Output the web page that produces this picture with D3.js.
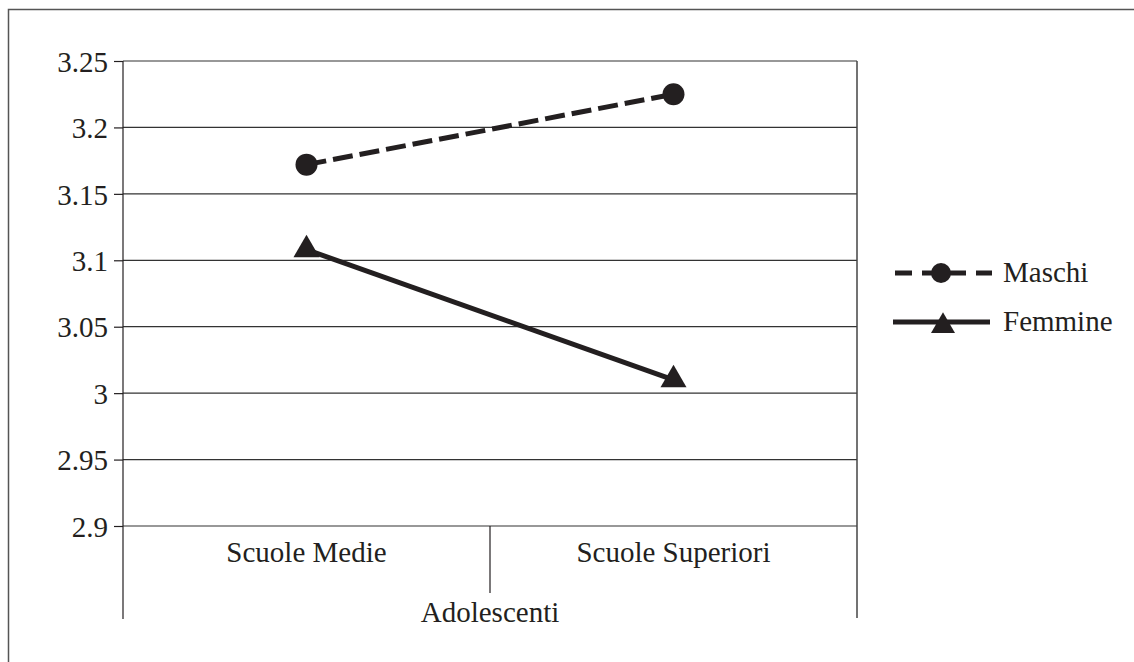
<!DOCTYPE html>
<html>
<head>
<meta charset="utf-8">
<script src="https://cdn.jsdelivr.net/npm/d3@7"></script>
<style>
  html, body { margin: 0; padding: 0; background: #fff; }
  text { font-family: "Liberation Serif", "DejaVu Serif", serif; fill: #231f20; }
</style>
</head>
<body>
<div id="chart"></div>
<script>
// Data
const categories = ["Scuole Medie", "Scuole Superiori"];
const groupLabel = "Adolescenti";
const seriesNames = ["Maschi", "Femmine"];
const maschi = [3.172, 3.225];
const femmine = [3.108, 3.01];
const yTicks = [2.9, 2.95, 3, 3.05, 3.1, 3.15, 3.2, 3.25];

const width = 1134,
      height = 662;
const ink = "#231f20";
const fontSize = "29px";
const serif = "'Liberation Serif', 'DejaVu Serif', serif";

const margin = { left: 123, right: 857, top: 61, bottom: 526 };

let svg = d3.select("#chart")
            .append("svg")
            .attr("width", width)
            .attr("height", height);

// outer frame (runs off the right and bottom edges)
svg.append("rect")
   .attr("x", 8.5).attr("y", 9.5)
   .attr("width", 1140).attr("height", 670)
   .attr("fill", "none")
   .attr("stroke", "#555")
   .attr("stroke-width", 1.5);

let x = d3.scaleBand()
          .domain(categories)
          .range([margin.left, margin.right]);

let y = d3.scaleLinear()
          .domain([2.9, 3.25])
          .range([margin.bottom, margin.top]);

// gridlines + y axis
let yAxis = d3.axisLeft(y)
              .tickValues(yTicks)
              .tickSize(9)
              .tickPadding(6)
              .tickFormat(d => d3.format("")(+d.toFixed(2)));

let gy = svg.append("g")
            .attr("transform", `translate(${margin.left},0)`)
            .call(yAxis)
            .attr("font-family", serif)
            .attr("font-size", fontSize);
gy.select(".domain").remove();
gy.selectAll(".tick line").attr("stroke", ink).attr("stroke-width", 1.2);
gy.selectAll(".tick text")
  .attr("dy", "0.35em")
  .attr("fill", ink);

svg.append("g")
   .selectAll("line")
   .data(yTicks)
   .join("line")
   .attr("x1", margin.left).attr("x2", margin.right)
   .attr("y1", d => y(d)).attr("y2", d => y(d))
   .attr("stroke", "#333")
   .attr("stroke-width", 1.2);

// vertical frame lines of the plot
svg.append("line")
   .attr("x1", margin.left).attr("x2", margin.left)
   .attr("y1", margin.top).attr("y2", 619)
   .attr("stroke", ink).attr("stroke-width", 1.2);
svg.append("line")
   .attr("x1", margin.right).attr("x2", margin.right)
   .attr("y1", margin.top).attr("y2", 618)
   .attr("stroke", "#444").attr("stroke-width", 1.5);
// divider between categories
svg.append("line")
   .attr("x1", x(categories[1])).attr("x2", x(categories[1]))
   .attr("y1", margin.bottom).attr("y2", 593)
   .attr("stroke", ink).attr("stroke-width", 1.2);

// category labels
svg.append("g")
   .selectAll("text")
   .data(categories)
   .join("text")
   .attr("x", d => x(d) + x.bandwidth() / 2)
   .attr("y", 562)
   .attr("text-anchor", "middle")
   .style("font-size", fontSize)
   .text(d => d);

svg.append("text")
   .attr("x", (margin.left + margin.right) / 2)
   .attr("y", 622)
   .attr("text-anchor", "middle")
   .style("font-size", fontSize)
   .text(groupLabel);

// lines
const cx = d => x(d) + x.bandwidth() / 2;
let line = d3.line()
             .x((d, i) => cx(categories[i]))
             .y(d => y(d));

svg.append("path")
   .datum(maschi)
   .attr("d", line)
   .attr("fill", "none")
   .attr("stroke", ink)
   .attr("stroke-width", 5)
   .attr("stroke-dasharray", "20,7");

svg.append("path")
   .datum(femmine)
   .attr("d", line)
   .attr("fill", "none")
   .attr("stroke", ink)
   .attr("stroke-width", 5);

// triangle path centred on its centroid
const tri = s => {
    const h = s * Math.sqrt(3) / 2;
    return `M0,${-2 * h / 3}L${s / 2},${h / 3}L${-s / 2},${h / 3}Z`;
};

svg.append("g")
   .selectAll("circle")
   .data(maschi)
   .join("circle")
   .attr("cx", (d, i) => cx(categories[i]))
   .attr("cy", d => y(d))
   .attr("r", 11)
   .attr("fill", ink);

svg.append("g")
   .selectAll("path")
   .data(femmine)
   .join("path")
   .attr("transform", (d, i) => `translate(${cx(categories[i])},${y(d)})`)
   .attr("d", tri(26))
   .attr("fill", ink);

// legend
const legendY = [273, 322];
let lg = svg.append("g");
lg.append("line")
  .attr("x1", 895).attr("x2", 992)
  .attr("y1", legendY[0]).attr("y2", legendY[0])
  .attr("stroke", ink).attr("stroke-width", 5)
  .attr("stroke-dasharray", "17,10");
lg.append("circle")
  .attr("cx", 941).attr("cy", legendY[0]).attr("r", 10)
  .attr("fill", ink);
lg.append("line")
  .attr("x1", 893).attr("x2", 990)
  .attr("y1", legendY[1]).attr("y2", legendY[1])
  .attr("stroke", ink).attr("stroke-width", 5);
lg.append("path")
  .attr("transform", `translate(943,${legendY[1] + 4})`)
  .attr("d", tri(24))
  .attr("fill", ink);
lg.selectAll("text")
  .data(seriesNames)
  .join("text")
  .attr("x", 1003)
  .attr("y", (d, i) => legendY[i] + 9)
  .style("font-size", fontSize)
  .text(d => d);
</script>
</body>
</html>
